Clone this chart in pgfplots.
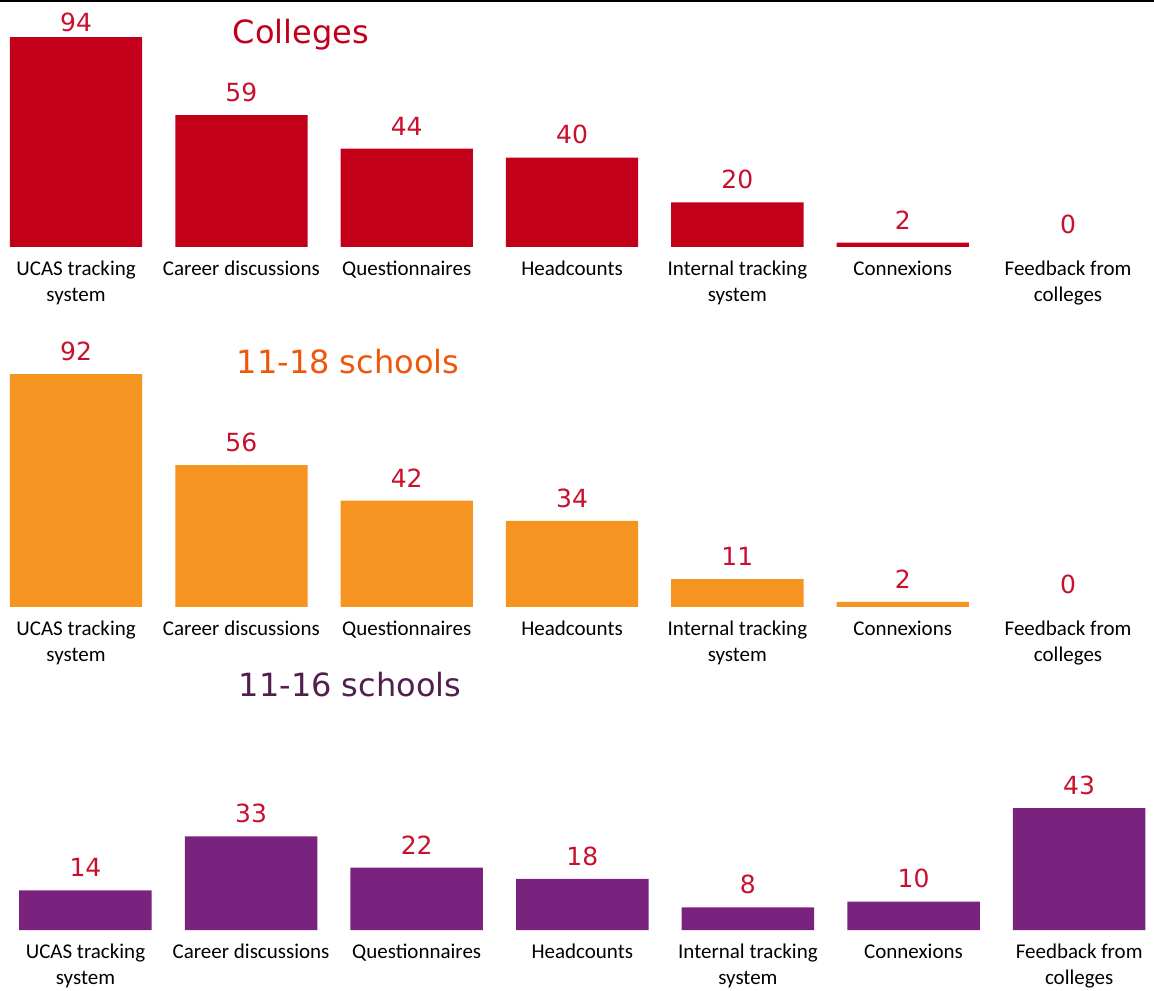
\documentclass[border=0pt]{standalone}
\usepackage{pgfplots}
\usepackage{pgfplotstable}
\pgfplotsset{compat=1.18}
\usepackage{fontspec}
\newfontfamily\calibri{Carlito}
\newfontfamily\verd{DejaVu Sans}
\definecolor{cred}{HTML}{C3001A}
\definecolor{corange}{HTML}{F59420}
\definecolor{cpurple}{HTML}{7A237E}
\definecolor{torange}{HTML}{F0560A}
\definecolor{tpurple}{HTML}{511E50}
\definecolor{vred}{HTML}{C8102E}

\pgfplotstableread{
x y off
0 94 2.5
1 59 6.5
2 44 6.5
3 40 6.5
4 20 6.5
5 2 6.5
6 0 6.5
}\colleges
\pgfplotstableread{
x y off
0 92 6.5
1 56 6.5
2 42 6.5
3 34 6.5
4 11 6.5
5 2 6.5
6 0 6.5
}\eighteen
\pgfplotstableread{
x y off
0 14 6.5
1 33 6.5
2 22 6.5
3 18 6.5
4 8 6.5
5 10 6.5
6 43 6.5
}\sixteen

\pgfplotsset{panel/.style={
  scale only axis, width=577pt, ybar, bar width=0.8, bar shift=0pt, ymin=0,
  axis x line=bottom, axis y line=none, x axis line style={draw=none},
  xtick={0,...,6}, xtick style={draw=none},
  xticklabels={{UCAS tracking\\system},{Career discussions},{Questionnaires},{Headcounts},{Internal tracking\\system},{Connexions},{Feedback from\\colleges}},
  xticklabel style={font=\calibri\fontsize{10.5}{13}\selectfont, align=center, inner sep=0pt, yshift=-4.5pt, text=black},
  clip=false,
  /pgf/number format/assume math mode=true,
  nodes near coords={\pgfmathprintnumber{\pgfplotspointmeta}},
  visualization depends on={\thisrow{off} \as \off},
  every node near coord/.append style={font=\verd\fontsize{12.5}{15}\selectfont, text=vred, inner sep=0pt, anchor=south, yshift=\off pt},
}}

\begin{document}
\begin{tikzpicture}
\useasboundingbox (0pt,0pt) rectangle (577pt,495pt);
\draw[line width=1pt] (0pt,494.5pt) -- (577pt,494.5pt);

\begin{axis}[panel, at={(0pt,371.5pt)}, anchor=south west, height=105pt, ymax=94, xmin=-0.46, xmax=6.52]
\addplot[draw=none, fill=cred, restrict x to domain=0:5] table[x=x, y=y] {\colleges};
\addplot[draw=none, fill=none, restrict x to domain=6:6] table[x=x, y=y] {\colleges};
\end{axis}

\begin{axis}[panel, at={(0pt,191.5pt)}, anchor=south west, height=116.5pt, ymax=92, xmin=-0.46, xmax=6.52]
\addplot[draw=none, fill=corange, restrict x to domain=0:5] table[x=x, y=y] {\eighteen};
\addplot[draw=none, fill=none, restrict x to domain=6:6] table[x=x, y=y] {\eighteen};
\end{axis}

\begin{axis}[panel, at={(0pt,30pt)}, anchor=south west, height=61pt, ymax=43, xmin=-0.516, xmax=6.452]
\addplot[draw=none, fill=cpurple] table[x=x, y=y] {\sixteen};
\end{axis}

\node[font=\verd\fontsize{16}{19}\selectfont, text=cred] at (150.5pt,477.5pt) {Colleges};
\node[font=\verd\fontsize{16}{19}\selectfont, text=torange] at (174pt,314pt) {11-18 schools};
\node[font=\verd\fontsize{16}{19}\selectfont, text=tpurple] at (175pt,152.5pt) {11-16 schools};
\end{tikzpicture}
\end{document}
